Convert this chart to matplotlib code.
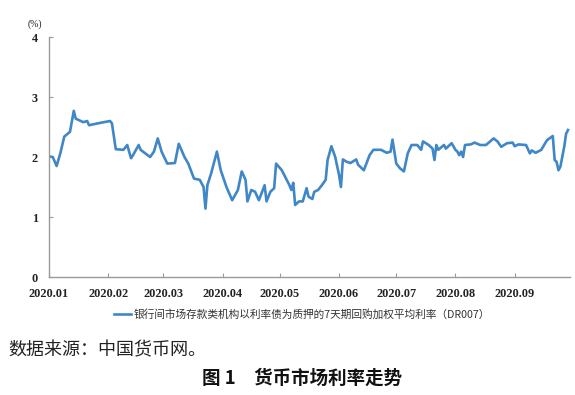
import pandas as pd
import matplotlib
matplotlib.use('Agg')
import matplotlib.pyplot as plt

plt.rcParams['font.family'] = ['Noto Sans CJK SC', 'DejaVu Sans']

# DR007
dates = [
    '2020-01-01', '2020-01-03', '2020-01-05', '2020-01-07', '2020-01-09', '2020-01-12',
    '2020-01-14', '2020-01-15', '2020-01-19', '2020-01-21', '2020-01-22', '2020-01-28',
    '2020-02-02', '2020-02-03', '2020-02-05', '2020-02-09', '2020-02-11', '2020-02-13',
    '2020-02-14', '2020-02-17', '2020-02-18', '2020-02-23', '2020-02-25', '2020-02-27',
    '2020-02-29', '2020-03-03', '2020-03-07', '2020-03-09', '2020-03-12', '2020-03-14',
    '2020-03-17', '2020-03-20', '2020-03-22', '2020-03-23', '2020-03-24', '2020-03-26',
    '2020-03-29', '2020-03-31', '2020-04-03', '2020-04-06', '2020-04-09', '2020-04-11',
    '2020-04-13', '2020-04-14', '2020-04-16', '2020-04-18', '2020-04-20', '2020-04-23',
    '2020-04-24', '2020-04-26', '2020-04-28', '2020-04-29', '2020-05-02', '2020-05-06',
    '2020-05-07', '2020-05-08', '2020-05-09', '2020-05-11', '2020-05-13', '2020-05-15',
    '2020-05-16', '2020-05-18', '2020-05-19', '2020-05-21', '2020-05-23', '2020-05-25',
    '2020-05-26', '2020-05-28', '2020-05-30', '2020-06-01', '2020-06-02', '2020-06-03',
    '2020-06-05', '2020-06-07', '2020-06-10', '2020-06-11', '2020-06-14', '2020-06-17',
    '2020-06-19', '2020-06-23', '2020-06-26', '2020-06-28', '2020-06-29', '2020-07-01',
    '2020-07-03', '2020-07-05', '2020-07-07', '2020-07-09', '2020-07-12', '2020-07-14',
    '2020-07-15', '2020-07-18', '2020-07-20', '2020-07-21', '2020-07-22', '2020-07-23',
    '2020-07-26', '2020-07-27', '2020-07-30', '2020-08-01', '2020-08-02', '2020-08-03',
    '2020-08-04', '2020-08-05', '2020-08-06', '2020-08-09', '2020-08-11', '2020-08-14',
    '2020-08-17', '2020-08-21', '2020-08-23', '2020-08-25', '2020-08-28', '2020-08-31',
    '2020-09-01', '2020-09-03', '2020-09-07', '2020-09-09', '2020-09-10', '2020-09-12',
    '2020-09-15', '2020-09-17', '2020-09-18', '2020-09-21', '2020-09-22', '2020-09-23',
    '2020-09-24', '2020-09-25', '2020-09-27', '2020-09-28', '2020-09-29',
]
dr007 = [
    2.01, 2.00, 1.85, 2.07, 2.34, 2.42,
    2.77, 2.64, 2.58, 2.60, 2.53, 2.57,
    2.60, 2.56, 2.13, 2.12, 2.20, 1.98,
    2.03, 2.20, 2.12, 2.00, 2.09, 2.31,
    2.09, 1.89, 1.90, 2.22, 2.00, 1.89,
    1.64, 1.62, 1.50, 1.14, 1.53, 1.73,
    2.09, 1.78, 1.50, 1.28, 1.45, 1.76,
    1.62, 1.26, 1.45, 1.42, 1.28, 1.53,
    1.26, 1.42, 1.48, 1.89, 1.78, 1.53,
    1.45, 1.57, 1.20, 1.26, 1.26, 1.48,
    1.34, 1.30, 1.42, 1.45, 1.53, 1.62,
    1.95, 2.18, 2.00, 1.70, 1.50, 1.96,
    1.92, 1.90, 1.96, 1.87, 1.78, 2.03,
    2.12, 2.12, 2.07, 2.09, 2.29, 1.89,
    1.81, 1.76, 2.06, 2.20, 2.20, 2.12,
    2.26, 2.20, 2.14, 1.95, 2.20, 2.12,
    2.20, 2.14, 2.23, 2.12, 2.09, 2.03,
    2.09, 2.00, 2.20, 2.21, 2.24, 2.20,
    2.20, 2.31, 2.26, 2.17, 2.23, 2.24,
    2.18, 2.21, 2.20, 2.06, 2.11, 2.07,
    2.12, 2.23, 2.28, 2.35, 1.95, 1.92,
    1.78, 1.84, 2.17, 2.39, 2.45,
]

month_ticks = pd.date_range('2020-01-01', '2020-09-01', freq='MS')
month_labels = ['2020.01', '2020.02', '2020.03', '2020.04', '2020.05',
                '2020.06', '2020.07', '2020.08', '2020.09']
y_ticks = [0, 1, 2, 3, 4]

legend_label = '银行间市场存款类机构以利率债为质押的7天期回购加权平均利率（DR007）'
source_text = '数据来源：中国货币网。'
title_text = '图 1　货币市场利率走势'

fig = plt.figure(figsize=(5.75, 3.95), dpi=100)
ax = fig.add_axes([0.0852, 0.2987, 0.906, 0.6076])

ax.plot(pd.to_datetime(dates), dr007, color='#4087c7', linewidth=1.9,
        label=legend_label, solid_joinstyle='round')

ax.set_xlim(pd.Timestamp('2020-01-01'), pd.Timestamp('2020-09-30'))
ax.set_ylim(0, 4)
ax.set_yticks(y_ticks)
ax.set_xticks(month_ticks)
ax.set_xticklabels(month_labels)

for side in ['top', 'right']:
    ax.spines[side].set_visible(False)
for side in ['left', 'bottom']:
    ax.spines[side].set_color('#9a9a9a')
    ax.spines[side].set_linewidth(1.0)

ax.tick_params(axis='both', direction='in', length=3, color='#9a9a9a',
               labelsize=8.8, labelcolor='#222222')
ax.tick_params(axis='y', pad=8)
ax.tick_params(axis='x', pad=8)
for lab in ax.get_xticklabels() + ax.get_yticklabels():
    lab.set_family('Liberation Serif')
    lab.set_fontweight('bold')

fig.text(0.061, 0.938, '(%)', fontsize=7, family='Liberation Serif',
         color='#222222', ha='center', va='center')

fig.legend(loc='center', bbox_to_anchor=(0.525, 0.203), frameon=False,
           fontsize=7.7, handlelength=1.6, handletextpad=0.3,
           labelcolor='#333333')

fig.text(0.014, 0.113, source_text, fontsize=13, color='#222222',
         ha='left', va='center')
fig.text(0.525, 0.043, title_text, fontsize=13.3, fontweight='bold',
         color='#111111', ha='center', va='center')

fig.savefig('out.png', dpi=100)
